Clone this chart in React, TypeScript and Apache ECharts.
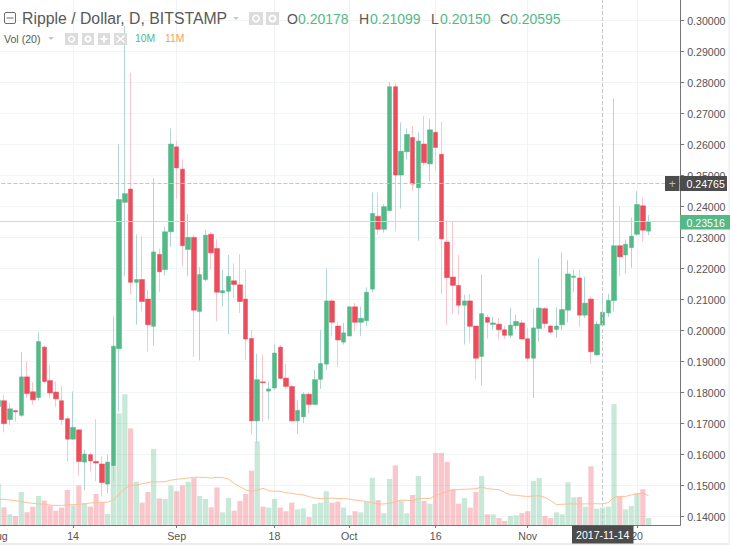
import React, { useEffect, useRef } from "react";
import * as echarts from "echarts";

const opens = [.1755,.1774,.1713,.1742,.1727,.1851,.1803,.1784,.1947,.1839,.1802,.1774,.1716,.1650,.1680,.1576,.1600,.1578,.1570,.1505,.1564,.1942,.2414,.2457,.2156,.2165,.2102,.2014,.2246,.2197,.2319,.2593,.2521,.2262,.2301,.2062,.2165,.2311,.2265,.2122,.2127,.2161,.2148,.2102,.1975,.1709,.1835,.1805,.1815,.1947,.1847,.1820,.1709,.1722,.1795,.1762,.1843,.1892,.2096,.2015,.1963,.1983,.2077,.2027,.2032,.2134,.2369,.2327,.2387,.2787,.2502,.2577,.2623,.2461,.2602,.2538,.2640,.2569,.2286,.2173,.2146,.2082,.2096,.2015,.1917,.2043,.2020,.2021,.2003,.1985,.2016,.2025,.1974,.1911,.2007,.2071,.2015,.2004,.2019,.2066,.2172,.2170,.2050,.2102,.1922,.20178,.2057,.2097,.2274,.2244,.2268,.2311,.2403,.2321];
const closes = [.1775,.1700,.1748,.1738,.1851,.1797,.1777,.1965,.1836,.1799,.1780,.1713,.1650,.1688,.1578,.1602,.1580,.1573,.1510,.1576,.1950,.2423,.2442,.2156,.2165,.2094,.2019,.2254,.2190,.2319,.2602,.2525,.2274,.2301,.2066,.2181,.2308,.2251,.2124,.2129,.2175,.2149,.2094,.1973,.1709,.1842,.1832,.1812,.1928,.1846,.1820,.1709,.1743,.1795,.1762,.1842,.1894,.2096,.2027,.1970,.1993,.2077,.2027,.2040,.2124,.2378,.2327,.2400,.2787,.2502,.2579,.2633,.2473,.2612,.2542,.2648,.2591,.2296,.2171,.2146,.2082,.2096,.2014,.1911,.2055,.2027,.2025,.2003,.1985,.2018,.2030,.1973,.1911,.2009,.2073,.2023,.1995,.2015,.2068,.2183,.2176,.2050,.2089,.1932,.2021,.20595,.2098,.2274,.2238,.2279,.2305,.2407,.2324,.23516];
const lows = [.1740,.1672,.1696,.1707,.1722,.1783,.1761,.1775,.1831,.1783,.1754,.1696,.1578,.1648,.1532,.1485,.1546,.1514,.1465,.1476,.1514,.1740,.2175,.2116,.2019,.2062,.1933,.1952,.2124,.2178,.2270,.2426,.2209,.2175,.1915,.1904,.2160,.2197,.2030,.2078,.1989,.2105,.2057,.1906,.1664,.1637,.1707,.1713,.1809,.1842,.1812,.1707,.1666,.1702,.1732,.1761,.1812,.1874,.1982,.1883,.1955,.1982,.1998,.1982,.2014,.2124,.2311,.2316,.2387,.2321,.2394,.2553,.2451,.2290,.2532,.2482,.2518,.2119,.2019,.2055,.2052,.1955,.1960,.1842,.1823,.1974,.2003,.1973,.1973,.1976,.2005,.1973,.1901,.1783,.1965,.2009,.1989,.1978,.2001,.2027,.2124,.2012,.2041,.1893,.1919,.20150,.2044,.2062,.2175,.2186,.2203,.2305,.2287,.2308];
const highs = [.1790,.1793,.1766,.1745,.1931,.1901,.1833,.1995,.1952,.1890,.1836,.1822,.1723,.1804,.1682,.1616,.1607,.1715,.1594,.1600,.2046,.2602,.2983,.2832,.2310,.2305,.2132,.2491,.2265,.2335,.2652,.2613,.2553,.2376,.2310,.2206,.2326,.2319,.2295,.2197,.2244,.2217,.2247,.2197,.2003,.1926,.1922,.1836,.1956,.1954,.1893,.1826,.1774,.1801,.1801,.1874,.2003,.2200,.2102,.2030,.2025,.2078,.2089,.2078,.2140,.2446,.2445,.2408,.2803,.2798,.2672,.2652,.2660,.2640,.2692,.2683,.2970,.2674,.2353,.2351,.2244,.2116,.2118,.2015,.2181,.2052,.2044,.2041,.2016,.2073,.2052,.2035,.2009,.2071,.2233,.2076,.2019,.2075,.2252,.2227,.2197,.2197,.2173,.2111,.2030,.21099,.2119,.2749,.2400,.2294,.2365,.2450,.2429,.2373];
const volumes = [22.7,9.6,5.8,4.9,18.0,6.9,10.0,15.8,13.3,10.7,7.8,9.5,19.1,10.7,21.6,11.8,10.0,16.9,12.4,6.0,31.8,60.9,71.3,52.7,23.6,12.2,18.0,41.5,14.5,14.2,21.6,18.5,21.6,23.6,25.5,15.8,14.2,9.6,20.5,6.9,14.7,7.8,13.1,16.9,29.6,45.6,10.0,9.5,14.2,9.5,7.5,12.2,8.5,9.1,4.4,11.5,12.2,18.4,12.2,12.7,9.5,5.3,7.5,6.9,12.7,25.8,13.6,6.4,25.1,32.5,13.3,6.4,16.4,26.7,13.1,11.6,39.3,39.3,34.5,19.5,11.6,14.7,9.5,18.0,26.7,5.8,5.8,3.8,2.2,4.9,5.3,6.5,7.5,24.0,25.6,4.9,3.8,6.9,5.8,23.3,15.1,15.3,10.0,32.0,8.9,9.5,10.0,66.0,15.8,8.5,10.4,17.3,19.5,3.8];
const volumeMA = [14.0,14.0,13.6,13.3,12.7,12.2,11.8,11.5,11.3,10.9,10.7,10.7,10.9,11.1,11.3,11.6,12.0,12.2,12.4,12.5,13.6,16.9,20.0,21.5,21.8,22.5,23.1,23.6,23.5,23.6,24.5,24.9,25.3,25.6,26.0,26.0,26.0,25.6,26.0,25.8,25.1,22.7,20.9,19.1,18.2,19.1,20.0,18.7,18.4,18.4,17.6,17.3,16.7,16.4,15.5,14.7,14.4,14.5,14.7,14.4,14.4,14.2,13.6,13.3,12.7,12.2,11.5,11.5,11.8,12.7,13.6,13.5,13.1,14.4,14.5,14.5,16.0,17.3,18.2,19.1,19.3,19.5,19.6,19.8,20.7,19.8,19.5,19.3,17.8,16.4,16.2,15.8,15.6,15.8,16.0,15.1,13.3,11.1,11.3,11.5,11.5,11.5,11.5,11.6,11.6,11.5,12.2,15.1,15.6,15.6,16.4,16.9,17.3,16.0];
const tickLabels: Record<number, string> = { 0: "Aug", 13: "14", 31: "Sep", 48: "18", 61: "Oct", 76: "16", 92: "Nov", 111: "20" };
const blankDays = 5;

const categories: string[] = [];
for (let i = 0; i < opens.length + blankDays; i++) {
  const d = new Date(Date.UTC(2017, 7, 1 + i));
  categories.push(d.toISOString().slice(0, 10));
}

const GREEN = "#53b987";
const RED = "#eb4d5c";
const FONT = '"Liberation Sans", Arial, sans-serif';

const txt = (text: string, x: number, y: number, fill: string, size: number, align = "left", z = 20) => ({
  type: "text", x, y, z, silent: true,
  style: { text, fill, font: `${size}px ${FONT}`, align, verticalAlign: "middle" },
});
const box = (x: number, y: number, w: number, h: number, fill: string, z = 19) => ({
  type: "rect", z, silent: true, shape: { x, y, width: w, height: h }, style: { fill },
});
const seg = (x1: number, y1: number, x2: number, y2: number, stroke: string, z = 20, lineWidth = 1.4) => ({
  type: "line", z, silent: true, shape: { x1, y1, x2, y2 }, style: { stroke, lineWidth },
});
const ring = (cx: number, cy: number, r: number, stroke: string, lineWidth = 1.5) => ({
  type: "circle", z: 20, silent: true, shape: { cx, cy, r }, style: { fill: "none", stroke, lineWidth },
});

const ICON = "#dcdcdc";
const headerGraphics: any[] = [
  box(0, 543, 730, 2, "#ececec", 18),
  box(728.5, 0, 1.5, 545, "#f0f0f0", 18),
  { type: "rect", z: 20, silent: true, shape: { x: 4.5, y: 12.5, width: 11, height: 11, r: 1.5 }, style: { fill: "none", stroke: "#6d6d6d", lineWidth: 1 } },
  seg(6.5, 18, 13.5, 18, "#6d6d6d", 20, 1),
  txt("Ripple / Dollar, D, BITSTAMP", 22, 18.5, "#595959", 15.8),
  { type: "polygon", z: 20, silent: true, shape: { points: [[233, 17], [239, 17], [236, 20]] }, style: { fill: "#c8c8c8" } },
  box(249, 12, 14, 13, ICON), ring(256, 18.5, 3.2, "#fff"),
  box(266, 12, 13, 13, ICON), ring(272.5, 18.5, 3, "#fff", 2),
  txt("O", 287, 18.5, "#595959", 14),
  txt("0.20178", 298, 18.5, GREEN, 14),
  txt("H", 359, 18.5, "#595959", 14),
  txt("0.21099", 370, 18.5, GREEN, 14),
  txt("L", 431, 18.5, "#595959", 14),
  txt("0.20150", 440, 18.5, GREEN, 14),
  txt("C", 500, 18.5, "#595959", 14),
  txt("0.20595", 510, 18.5, GREEN, 14),
  txt("Vol (20)", 4, 38.5, "#595959", 10.6),
  { type: "polygon", z: 20, silent: true, shape: { points: [[48, 37], [54, 37], [51, 40]] }, style: { fill: "#c8c8c8" } },
  box(65, 33, 13, 12, ICON), ring(71.5, 39, 2.8, "#fff"),
  box(82, 33, 12, 12, ICON), ring(88, 39, 2.6, "#fff", 2),
  box(98, 33, 12, 12, ICON), seg(100.5, 39, 107.5, 39, "#fff", 20, 2), seg(104, 35.5, 104, 42.5, "#fff", 20, 2),
  box(114, 33, 13, 12, ICON), seg(116.5, 35.5, 124.5, 42.5, "#fff"), seg(124.5, 35.5, 116.5, 42.5, "#fff"),
  txt("10M", 135, 38.5, GREEN, 10.4),
  txt("11M", 165, 38.5, "#ff9a5c", 10.4),
  box(680, 176, 47, 15, "#4c4c4c"),
  txt("0.24765", 686.5, 183.5, "#ffffff", 10.6),
  box(665, 176, 14.5, 15, "#4c4c4c"),
  txt("+", 672.2, 183.5, "#bbbbbb", 12, "center"),
  box(680, 215, 50, 14.5, GREEN),
  txt("0.23516", 686.5, 222.5, "#ffffff", 10.6),
  box(572, 525.5, 61.5, 18, "#4c4c4c"),
  txt("2017-11-14", 602.7, 535, "#ffffff", 10.6, "center"),
];

const GRID_LEFT = -4.6;
const GRID_WIDTH = 684.8;

export default function App() {
  const ref = useRef<HTMLDivElement>(null);
  useEffect(() => {
    const chart = echarts.init(ref.current!, undefined, { renderer: "svg" });
    const isUp = (i: number) => closes[i] >= opens[i];
    const bodyData = opens.map((o, i) => [o, closes[i], Math.min(o, closes[i]), Math.max(o, closes[i])]);
    const wickData = opens.map((o, i) => ({
      value: [o, closes[i], lows[i], highs[i]],
      itemStyle: isUp(i)
        ? { color: "#b2d5d6", color0: "#b2d5d6", borderColor: "#b2d5d6", borderColor0: "#b2d5d6" }
        : { color: "#fac5cb", color0: "#fac5cb", borderColor: "#fac5cb", borderColor0: "#fac5cb" },
    }));
    chart.setOption({
      animation: false,
      backgroundColor: "#ffffff",
      grid: [
        { left: GRID_LEFT, width: GRID_WIDTH, top: -10.33, height: 558, outerBoundsMode: "none" },
        { left: GRID_LEFT, width: GRID_WIDTH, top: 0, height: 525, outerBoundsMode: "none" },
      ],
      xAxis: [
        { type: "category", gridIndex: 0, data: categories, show: false, boundaryGap: true },
        {
          type: "category", gridIndex: 1, data: categories, boundaryGap: true,
          axisLine: { show: true, lineStyle: { color: "#757575", width: 1 } },
          axisTick: { show: true, alignWithLabel: true, length: 3, interval: (i: number) => i in tickLabels, lineStyle: { color: "#757575" } },
          axisLabel: {
            interval: (i: number) => i in tickLabels,
            formatter: (_: string, i: number) => tickLabels[i] ?? "",
            color: "#555555", fontSize: 10.6, fontFamily: FONT, margin: 5,
          },
          splitLine: { show: true, alignWithLabel: true, interval: (i: number) => i in tickLabels, lineStyle: { color: "#eff3f6", width: 1 } },
        },
      ],
      yAxis: [
        {
          type: "value", gridIndex: 0, position: "right", min: 0.13, max: 0.31, interval: 0.01,
          axisLine: { show: false },
          axisTick: { show: true, length: 4, lineStyle: { color: "#757575" } },
          axisLabel: {
            color: "#555555", fontSize: 10.6, fontFamily: FONT, margin: 7,
            formatter: (v: number) => (v < 0.135 || v > 0.305 ? "" : v.toFixed(5)),
          },
          splitLine: { show: true, lineStyle: { color: "#f2f5f8", width: 1 } },
        },
        {
          type: "value", gridIndex: 1, position: "right", min: 0, max: 286.36,
          axisLine: { show: true, lineStyle: { color: "#757575", width: 1 } },
          axisTick: { show: false }, axisLabel: { show: false }, splitLine: { show: false },
        },
      ],
      series: [
        {
          name: "Vol", type: "bar", xAxisIndex: 1, yAxisIndex: 1, z: 1, barWidth: 5.2,
          data: volumes.map((v, i) => ({
            value: v,
            itemStyle: { color: isUp(i) ? "rgba(83,185,135,0.32)" : "rgba(235,77,92,0.32)" },
          })),
          markLine: {
            silent: true, symbol: "none", label: { show: false },
            lineStyle: { color: "#c9c9c9", type: "dashed", width: 1 },
            data: [{ xAxis: "2017-11-14" }],
          },
        },
        {
          name: "Vol MA", type: "line", xAxisIndex: 1, yAxisIndex: 1, z: 1.5, data: volumeMA,
          showSymbol: false, symbol: "none", lineStyle: { color: "#ffbf94", width: 1 },
        },
        {
          name: "Wick", type: "candlestick", xAxisIndex: 0, yAxisIndex: 0, z: 2, barWidth: 1, data: wickData,
        },
        {
          name: "Ripple / Dollar", type: "candlestick", xAxisIndex: 0, yAxisIndex: 0, z: 3, barWidth: 5, data: bodyData,
          itemStyle: { color: GREEN, color0: RED, borderColor: GREEN, borderColor0: RED, borderWidth: 0.5 },
          markLine: {
            silent: true, symbol: "none", label: { show: false }, precision: 5,
            data: [
              { yAxis: 0.23516, lineStyle: { color: "#bfe3d1", type: "solid", width: 1 } },
              { yAxis: 0.24765, lineStyle: { color: "#c4c4c4", type: "dashed", width: 1 } },
            ],
          },
        },
      ],
      graphic: headerGraphics,
    });
    return () => chart.dispose();
  }, []);
  return <div ref={ref} style={{ position: "fixed", left: 0, top: 0, width: 730, height: 545 }} />;
}
